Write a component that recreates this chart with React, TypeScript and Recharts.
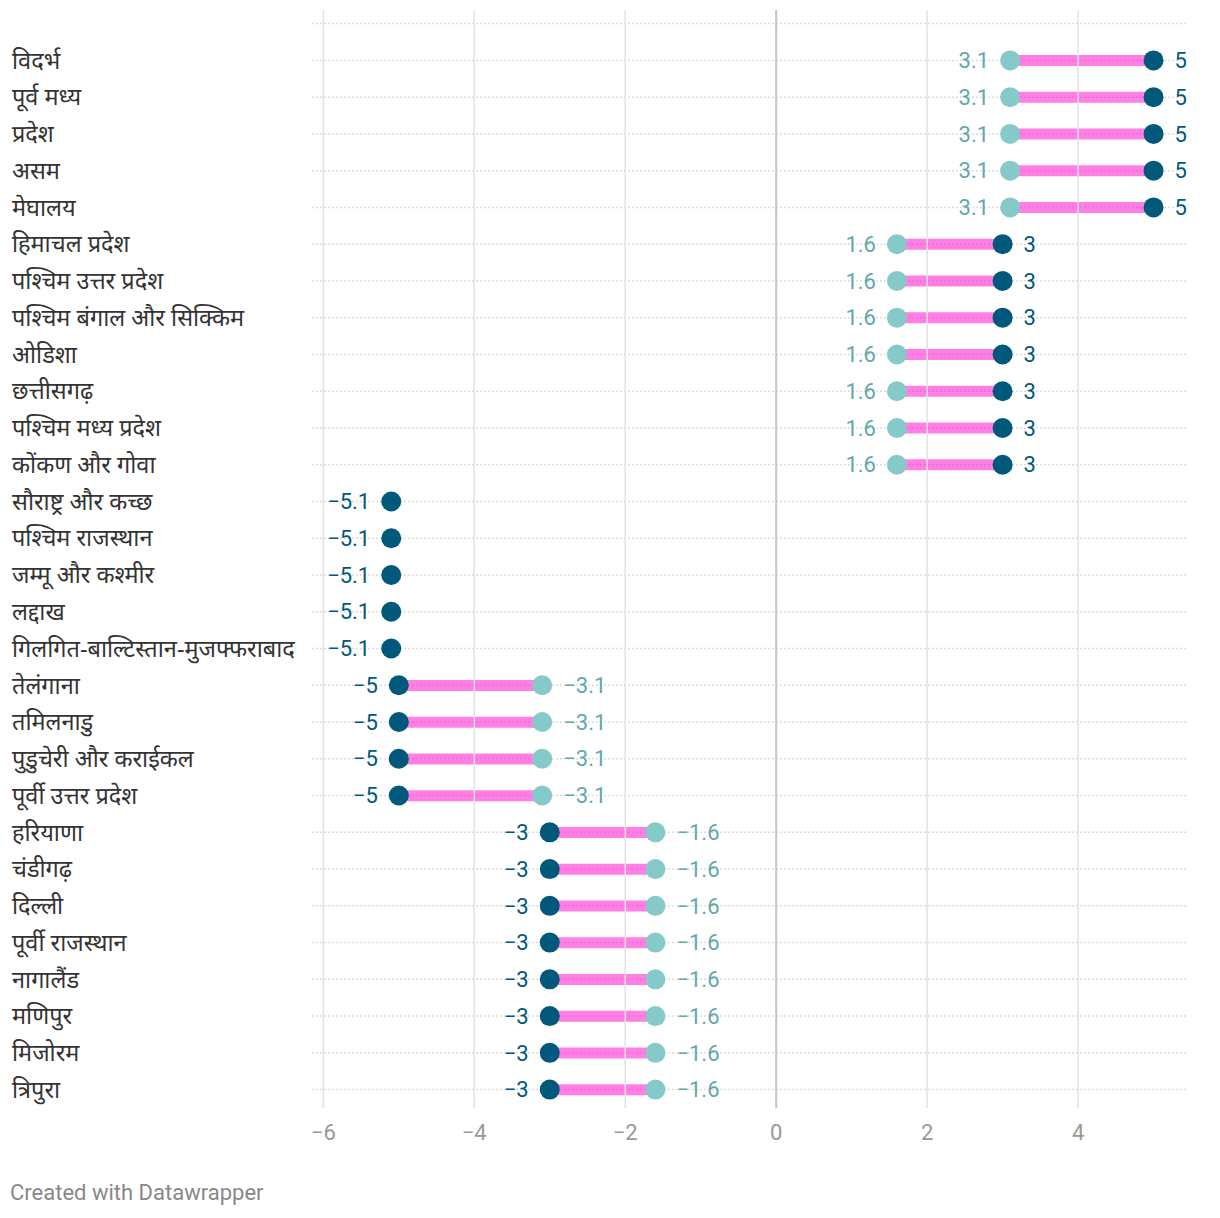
import React from 'react';
import { ComposedChart, Bar, Line, XAxis, YAxis, CartesianGrid, ReferenceLine } from 'recharts';

const regions = [
    'विदर्भ', 'पूर्व मध्य', 'प्रदेश', 'असम', 'मेघालय',
    'हिमाचल प्रदेश', 'पश्चिम उत्तर प्रदेश', 'पश्चिम बंगाल और सिक्किम', 'ओडिशा', 'छत्तीसगढ़', 'पश्चिम मध्य प्रदेश', 'कोंकण और गोवा',
    'सौराष्ट्र और कच्छ', 'पश्चिम राजस्थान', 'जम्मू और कश्मीर', 'लद्दाख', 'गिलगित-बाल्टिस्तान-मुजफ्फराबाद',
    'तेलंगाना', 'तमिलनाडु', 'पुडुचेरी और कराईकल', 'पूर्वी उत्तर प्रदेश',
    'हरियाणा', 'चंडीगढ़', 'दिल्ली', 'पूर्वी राजस्थान', 'नागालैंड', 'मणिपुर', 'मिजोरम', 'त्रिपुरा',
];

// dark dots
const darkValues = [
    5, 5, 5, 5, 5,
    3, 3, 3, 3, 3, 3, 3,
    -5.1, -5.1, -5.1, -5.1, -5.1,
    -5, -5, -5, -5,
    -3, -3, -3, -3, -3, -3, -3, -3,
];

// light dots (none shown for the -5.1 rows)
const lightValues: (number | null)[] = [
    3.1, 3.1, 3.1, 3.1, 3.1,
    1.6, 1.6, 1.6, 1.6, 1.6, 1.6, 1.6,
    null, null, null, null, null,
    -3.1, -3.1, -3.1, -3.1,
    -1.6, -1.6, -1.6, -1.6, -1.6, -1.6, -1.6, -1.6,
];

const xTicks = [-6, -4, -2, 0, 2, 4];

const DARK = '#00587a';
const LIGHT = '#86c9c9';
const LIGHT_TEXT = '#5fa9a9';
const PAD_TOP = 32;

const data = regions.map((name, i) => {
    const d = darkValues[i];
    const l = lightValues[i];
    return {
        name,
        dark: d,
        light: l,
        range: l == null ? null : [Math.min(d, l), Math.max(d, l)],
    };
});

const fmt = (v: number) => (v < 0 ? '\u2212' + Math.abs(v) : String(v));

const makeDot = (key: 'dark' | 'light', fill: string, textFill: string) => (props: any) => {
    const { cx, cy, payload, index } = props;
    const v = payload ? payload[key] : null;
    if (v == null || cx == null || cy == null) return <g key={`${key}-${index}`} />;
    const other = key === 'dark' ? payload.light : payload.dark;
    const right = other == null ? v > 0 : v > other;
    return (
        <g key={`${key}-${index}`}>
            <circle cx={cx} cy={cy} r={10} fill={fill} />
            <text
                x={right ? cx + 21 : cx - 21}
                y={cy}
                dy="0.35em"
                textAnchor={right ? 'start' : 'end'}
                fill={textFill}
                fontSize={22}
                fontFamily="Roboto, sans-serif"
            >
                {fmt(v)}
            </text>
        </g>
    );
};

const RegionTick = (props: any) => {
    const { y, payload } = props;
    return (
        <text x={12} y={y} dy="0.35em" fill="#333" fontSize={23.5} fontFamily="'Noto Sans', Roboto, sans-serif" textAnchor="start">
            {payload.value}
        </text>
    );
};

// one dotted line per row, plus one a row above the first
const rowLines = ({ offset }: any) => {
    const bw = (offset.height - PAD_TOP) / regions.length;
    const first = offset.top + PAD_TOP + bw / 2;
    return [first - bw, ...regions.map((_, i) => first + i * bw)];
};

const App: React.FC = () => {
    return (
        <div style={{ position: 'absolute', left: 0, top: 0, width: 1220, height: 1218, background: '#fff' }}>
            <ComposedChart
                width={1220}
                height={1218}
                data={data}
                layout="vertical"
                margin={{ top: 10, right: 34, left: 0, bottom: 70 }}
            >
                <CartesianGrid
                    vertical={false}
                    horizontal
                    horizontalCoordinatesGenerator={rowLines}
                    stroke="#dcdcdc"
                    strokeWidth={1.5}
                    strokeDasharray="2 2"
                />
                {xTicks.filter((t) => t !== 0).map((t) => (
                    <ReferenceLine key={t} x={t} stroke="#e3e3e3" strokeWidth={1.5} />
                ))}
                <XAxis
                    type="number"
                    domain={[-6.15, 5.43]}
                    ticks={xTicks}
                    tickFormatter={fmt}
                    axisLine={false}
                    tickLine={false}
                    tickMargin={10}
                    height={40}
                    tick={{ fill: '#999', fontSize: 22, fontFamily: 'Roboto, sans-serif' }}
                />
                <YAxis
                    type="category"
                    dataKey="name"
                    width={312}
                    interval={0}
                    axisLine={false}
                    tickLine={false}
                    padding={{ top: PAD_TOP, bottom: 0 }}
                    tick={<RegionTick />}
                />
                <ReferenceLine x={0} stroke="#c4c4c4" strokeWidth={2} />
                <Bar dataKey="range" fill="#ff00cc" fillOpacity={0.5} barSize={11} isAnimationActive={false} />
                <Line
                    dataKey="light"
                    stroke="none"
                    strokeWidth={0}
                    dot={makeDot('light', LIGHT, LIGHT_TEXT)}
                    activeDot={false}
                    isAnimationActive={false}
                />
                <Line
                    dataKey="dark"
                    stroke="none"
                    strokeWidth={0}
                    dot={makeDot('dark', DARK, DARK)}
                    activeDot={false}
                    isAnimationActive={false}
                />
            </ComposedChart>
            <div
                style={{
                    position: 'absolute',
                    left: 10,
                    top: 1180,
                    color: '#888',
                    fontSize: 22,
                    fontFamily: 'Roboto, sans-serif',
                }}
            >
                Created with Datawrapper
            </div>
        </div>
    );
};

export default App;
